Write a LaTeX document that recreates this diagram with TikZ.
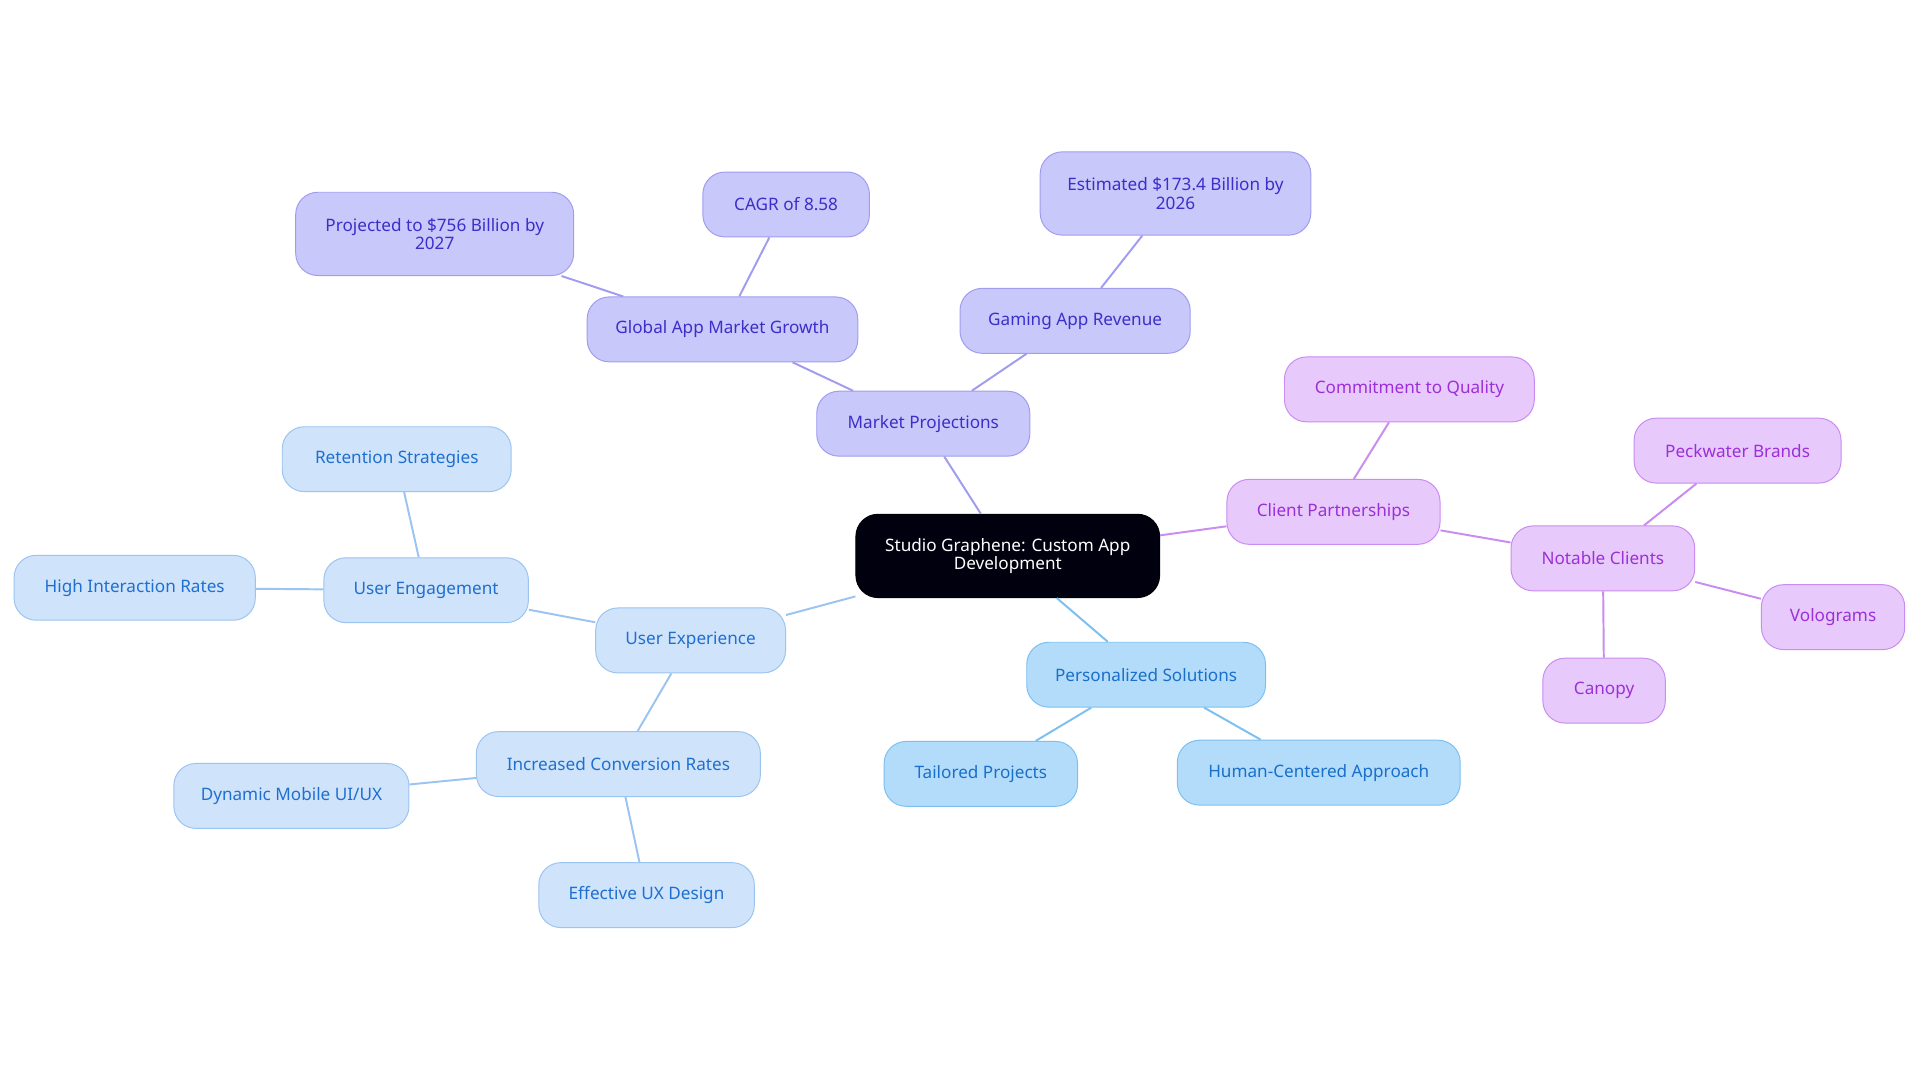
\documentclass[tikz,border=0pt]{standalone}
\usepackage{fontspec}
\setmainfont{Noto Sans}
\begin{document}
\begin{tikzpicture}[x=1pt,y=-1pt,
 base/.style={rounded corners=18pt,minimum height=53pt,inner sep=2pt,align=center,font=\fontsize{14}{15}\selectfont,line width=0.8pt},
 mp/.style={base,fill=mpf,draw=mpd,text=mpt},
 cp/.style={base,fill=cpf,draw=cpd,text=cpt},
 ux/.style={base,fill=uxf,draw=uxd,text=uxt},
 ps/.style={base,fill=psf,draw=psd,text=pst},
 tall/.style={minimum height=68pt},
 emp/.style={line width=1.6pt,draw=mpd},
 ecp/.style={line width=1.6pt,draw=cpd},
 eux/.style={line width=1.6pt,draw=uxd},
 eps/.style={line width=1.6pt,draw=psd}]
\definecolor{mpf}{HTML}{C9C8FB}\definecolor{mpd}{HTML}{A09CF0}\definecolor{mpt}{HTML}{3B2FC9}
\definecolor{cpf}{HTML}{E8C9FB}\definecolor{cpd}{HTML}{C98CF0}\definecolor{cpt}{HTML}{9B30D9}
\definecolor{uxf}{HTML}{CFE3FB}\definecolor{uxd}{HTML}{9CC4F0}\definecolor{uxt}{HTML}{1F6FD0}
\definecolor{psf}{HTML}{B3DCFB}\definecolor{psd}{HTML}{7CC0F0}\definecolor{pst}{HTML}{1A6FC9}
\useasboundingbox[fill=white] (0,0) rectangle (1568,884);
\node[base,tall,fill=black!90!blue!60!black,draw=black,text=white,minimum width=248pt] (c) at (823,454) {Studio Graphene: Custom App\\Development};
\node[mp,minimum width=174pt] (mp) at (754,346) {Market Projections};
\node[mp,minimum width=221pt] (gam) at (590,269) {Global App Market Growth};
\node[mp,tall,minimum width=227pt] (p756) at (355,191) {Projected to \$756 Billion by\\2027};
\node[mp,minimum width=136pt] (cagr) at (642,167) {CAGR of 8.58};
\node[mp,minimum width=188pt] (gar) at (878,262) {Gaming App Revenue};
\node[mp,tall,minimum width=221pt] (e173) at (960,158) {Estimated \$173.4 Billion by\\2026};
\node[cp,minimum width=174pt] (cl) at (1089,418) {Client Partnerships};
\node[cp,minimum width=204pt] (cq) at (1151,318) {Commitment to Quality};
\node[cp,minimum width=150pt] (nc) at (1309,456) {Notable Clients};
\node[cp,minimum width=169pt] (pb) at (1419,368) {Peckwater Brands};
\node[cp,minimum width=117pt] (vo) at (1497,504) {Volograms};
\node[cp,minimum width=100pt] (ca) at (1310,564) {Canopy};
\node[ps,minimum width=195pt] (ps) at (936,551) {Personalized Solutions};
\node[ps,minimum width=158pt] (tp) at (801,632) {Tailored Projects};
\node[ps,minimum width=231pt] (hc) at (1077,631) {Human-Centered Approach};
\node[ux,minimum width=155pt] (ue) at (564,523) {User Experience};
\node[ux,minimum width=167pt] (ug) at (348,482) {User Engagement};
\node[ux,minimum width=187pt] (rs) at (324,375) {Retention Strategies};
\node[ux,minimum width=197pt] (hi) at (110,480) {High Interaction Rates};
\node[ux,minimum width=232pt] (ic) at (505,624) {Increased Conversion Rates};
\node[ux,minimum width=192pt] (dm) at (238,650) {Dynamic Mobile UI/UX};
\node[ux,minimum width=176pt] (ed) at (528,731) {Effective UX Design};
\begin{scope}[on background layer/.style={}]
\end{scope}
\begin{pgfinterruptboundingbox}\end{pgfinterruptboundingbox}
\draw[emp] (c) -- (mp); \draw[emp] (mp) -- (gam); \draw[emp] (gam) -- (p756); \draw[emp] (gam) -- (cagr);
\draw[emp] (mp) -- (gar); \draw[emp] (gar) -- (e173);
\draw[ecp] (c) -- (cl); \draw[ecp] (cl) -- (cq); \draw[ecp] (cl) -- (nc); \draw[ecp] (nc) -- (pb); \draw[ecp] (nc) -- (vo); \draw[ecp] (nc) -- (ca);
\draw[eps] (c) -- (ps); \draw[eps] (ps) -- (tp); \draw[eps] (ps) -- (hc);
\draw[eux] (c) -- (ue); \draw[eux] (ue) -- (ug); \draw[eux] (ug) -- (rs); \draw[eux] (ug) -- (hi);
\draw[eux] (ue) -- (ic); \draw[eux] (ic) -- (dm); \draw[eux] (ic) -- (ed);
\end{tikzpicture}
\end{document}
